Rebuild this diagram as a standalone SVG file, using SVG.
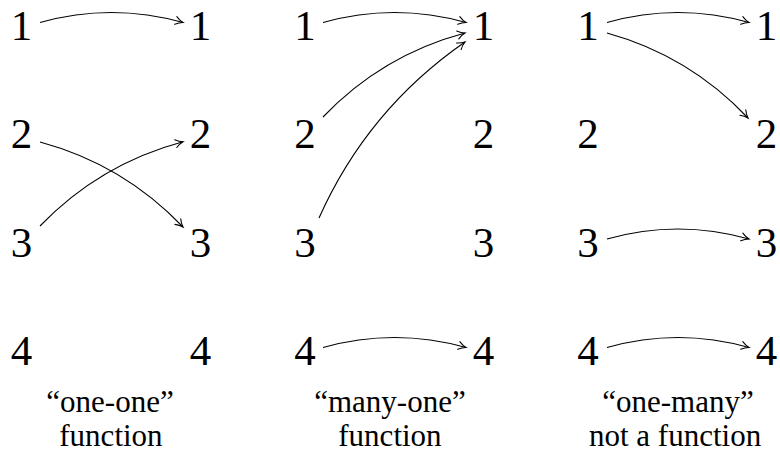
<svg xmlns="http://www.w3.org/2000/svg" width="780" height="454" viewBox="0 0 780 454">
  <defs>
    <marker id="arr" markerUnits="userSpaceOnUse" viewBox="-9 -6 11 12" refX="0" refY="0" markerWidth="11" markerHeight="12" orient="auto" overflow="visible">
      <path d="M -7.5 -4 C -5 -2 -1.8 -0.5 0 0 C -1.8 0.5 -5 2 -7.5 4" fill="none" stroke="#000" stroke-width="1.1" stroke-linecap="round"/>
    </marker>
  </defs>
  <rect width="780" height="454" fill="#fff"/>

  <g font-size="43" fill="#000">
  <g id="one-one">
    <g id="a-l1"><text font-family="Liberation Serif" x="10.75" y="40">1</text></g>
    <g id="a-l2"><text font-family="Liberation Serif" x="10.75" y="148">2</text></g>
    <g id="a-l3"><text font-family="Liberation Serif" x="10.75" y="257">3</text></g>
    <g id="a-l4"><text font-family="Liberation Serif" x="10.75" y="365">4</text></g>
    <g id="a-r1"><text font-family="Liberation Serif" x="189.75" y="40">1</text></g>
    <g id="a-r2"><text font-family="Liberation Serif" x="189.75" y="148">2</text></g>
    <g id="a-r3"><text font-family="Liberation Serif" x="189.75" y="257">3</text></g>
    <g id="a-r4"><text font-family="Liberation Serif" x="189.75" y="365">4</text></g>
  </g>

  <g id="many-one">
    <g id="b-l1"><text font-family="Liberation Serif" x="294.25" y="40">1</text></g>
    <g id="b-l2"><text font-family="Liberation Serif" x="294.25" y="148">2</text></g>
    <g id="b-l3"><text font-family="Liberation Serif" x="294.25" y="257">3</text></g>
    <g id="b-l4"><text font-family="Liberation Serif" x="294.25" y="365">4</text></g>
    <g id="b-r1"><text font-family="Liberation Serif" x="472.75" y="40">1</text></g>
    <g id="b-r2"><text font-family="Liberation Serif" x="472.75" y="148">2</text></g>
    <g id="b-r3"><text font-family="Liberation Serif" x="472.75" y="257">3</text></g>
    <g id="b-r4"><text font-family="Liberation Serif" x="472.75" y="365">4</text></g>
  </g>

  <g id="one-many">
    <g id="c-l1"><text font-family="Liberation Serif" x="577.25" y="40">1</text></g>
    <g id="c-l2"><text font-family="Liberation Serif" x="577.25" y="148">2</text></g>
    <g id="c-l3"><text font-family="Liberation Serif" x="577.25" y="257">3</text></g>
    <g id="c-l4"><text font-family="Liberation Serif" x="577.25" y="365">4</text></g>
    <g id="c-r1"><text font-family="Liberation Serif" x="755.75" y="40">1</text></g>
    <g id="c-r2"><text font-family="Liberation Serif" x="755.75" y="148">2</text></g>
    <g id="c-r3"><text font-family="Liberation Serif" x="755.75" y="257">3</text></g>
    <g id="c-r4"><text font-family="Liberation Serif" x="755.75" y="365">4</text></g>
  </g>
  </g>

  <g id="labels" font-size="31" fill="#000">
    <text font-family="Liberation Serif" x="46.3" y="412">“one-one”</text>
    <text font-family="Liberation Serif" x="59.3" y="446">function</text>
    <text font-family="Liberation Serif" x="314.2" y="412">“many-one”</text>
    <text font-family="Liberation Serif" x="338.3" y="446">function</text>
    <text font-family="Liberation Serif" x="602.2" y="412">“one-many”</text>
    <text font-family="Liberation Serif" x="589" y="446">not a function</text>
  </g>

  <g id="connectors" fill="none" stroke="#000" stroke-width="1.1" marker-end="url(#arr)">
    <path d="M 40 22.5 Q 111.5 2.5 183 22.5"/>
    <path d="M 40 142 Q 123.4 164.5 183 227"/>
    <path d="M 40 226 Q 99.7 164 183 141.7"/>

    <path d="M 323 22.5 Q 394.5 2.5 466 22.5"/>
    <path d="M 323 117 Q 382.2 55.1 465 33"/>
    <path d="M 319 218 Q 367.4 109.6 465 42"/>
    <path d="M 323 347.5 Q 394.5 327.5 466 347.5"/>

    <path d="M 607 22.5 Q 678 2.5 749 22.5"/>
    <path d="M 607 33 Q 689.4 55.8 748 118"/>
    <path d="M 607 239 Q 678 219 749 239"/>
    <path d="M 607 347.5 Q 678 327.5 749 347.5"/>
  </g>
</svg>
